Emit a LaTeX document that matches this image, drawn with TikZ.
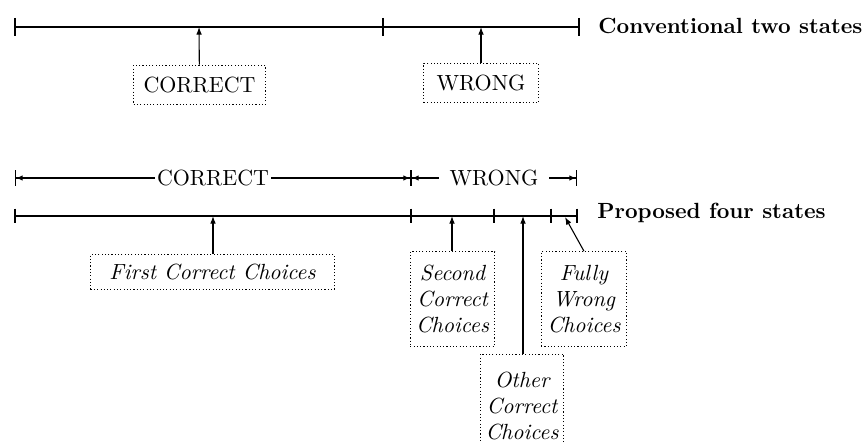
\documentclass[tikz,border=0pt]{standalone}
\usetikzlibrary{arrows.meta,positioning}

\tikzset{
  statebox/.style={draw, densely dotted, line width=0.5pt, inner sep=2pt, align=center},
  pointer/.style={-{Latex[length=3.5pt,width=2.6pt]}, line width=0.5pt},
  scaleline/.style={line width=0.6pt},
  spanline/.style={line width=0.5pt,
    {Bar[width=7pt]Latex[length=3pt,width=2.5pt]}-{Latex[length=3pt,width=2.5pt]Bar[width=7pt]}},
  caption/.style={anchor=west, inner sep=0pt, font=\bfseries}
}

\begin{document}
\begin{tikzpicture}[x=0.016cm, y=-0.016cm]
\useasboundingbox (0,0) rectangle (865,443);

% conventional scale
\coordinate (t0) at (15,27);
\coordinate (tmid) at (383,27);
\coordinate (tend) at (579,27);
\coordinate (pC) at (199,27);
\coordinate (pW) at (481,27);
\draw[scaleline] (t0) -- (tend);
\foreach \p in {t0,tmid,tend}
  \draw[scaleline] ([yshift=4.2pt]\p) -- ([yshift=-4.2pt]\p);
\node[caption] (conv) at (598,26) {Conventional two states};

\node[statebox, minimum width=60pt, minimum height=18pt] (boxC) at (199.5,85) {CORRECT};
\node[statebox, minimum width=52pt, minimum height=18pt] (boxW) at (481,83) {WRONG};
\draw[pointer] (boxC) -- (pC);
\draw[pointer] (boxW) -- (pW);

% spans above the proposed scale
\coordinate (s0) at (15,178);
\coordinate (s1) at (411,178);
\coordinate (s2) at (577,178);
\draw[spanline] (s0) -- node[fill=white, inner sep=1pt] (spanC) {CORRECT} (s1);
\draw[spanline] (s1) -- node[fill=white, inner xsep=5pt, inner ysep=1pt] (spanW) {WRONG} (s2);

% proposed scale
\coordinate (m0) at (15,216);
\coordinate (m1) at (411,216);
\coordinate (m2) at (494,216);
\coordinate (m3) at (551,216);
\coordinate (mend) at (577,216);
\draw[scaleline] (m0) -- (mend);
\foreach \p in {m0,m1,m2,m3,mend}
  \draw[scaleline] ([yshift=3.4pt]\p) -- ([yshift=-3.4pt]\p);
\node[caption] (prop) at (597,213) {Proposed four states};

\coordinate (pFirst) at (213,216);
\coordinate (pSecond) at (452,216);
\coordinate (pOther) at (523,216);
\coordinate (pFully) at (565,217);

\node[statebox, minimum width=111pt, minimum height=16pt] (first) at (212.5,272)
  {\itshape First Correct Choices};
\node[statebox, minimum width=38.5pt, minimum height=43pt] (second) at (452.5,299)
  {\itshape Second\\\itshape Correct\\\itshape Choices};
\node[statebox, minimum width=39pt, minimum height=43pt] (fully) at (584,299)
  {\itshape Fully\\\itshape Wrong\\\itshape Choices};
\node[statebox, minimum width=38pt, minimum height=47pt] (other) at (522,406)
  {\itshape Other\\\itshape Correct\\\itshape Choices};

\draw[pointer] (first.north -| pFirst) -- (pFirst);
\draw[pointer] (second.north -| pSecond) -- (pSecond);
\draw[pointer] (other.north -| pOther) -- (pOther);
\draw[pointer] (fully.north) -- (pFully);
\end{tikzpicture}
\end{document}
